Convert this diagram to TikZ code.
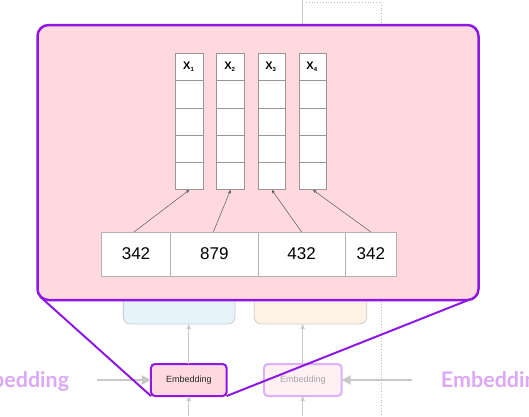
\documentclass[tikz,border=0pt]{standalone}
\usepackage{fontspec}
\setmainfont{Liberation Sans}
\newfontfamily\latofont{Lato}
\usetikzlibrary{arrows.meta}
\definecolor{bigpink}{RGB}{255,217,222}
\definecolor{purp}{RGB}{142,24,226}
\definecolor{lightpurp}{RGB}{222,176,245}
\definecolor{lav}{RGB}{220,168,245}
\definecolor{fadedpink}{RGB}{255,240,243}
\definecolor{lblue}{RGB}{230,243,250}
\definecolor{lorange}{RGB}{255,243,230}
\definecolor{cellgray}{RGB}{150,150,150}
\definecolor{arrgray}{RGB}{200,200,200}
\tikzset{
  bigbox/.style={draw=purp, fill=bigpink, line width=2.5pt, rounded corners=11pt, inner sep=0pt, outer sep=0pt},
  bgbox/.style={draw=black!20, line width=0.8pt, rounded corners=7pt, inner sep=0pt, outer sep=0pt},
  vcell/.style={draw=cellgray, fill=white, line width=0.8pt, minimum width=27.5pt, minimum height=27.3pt, inner sep=0pt, outer sep=0pt},
  ncell/.style={draw=black!30, fill=white, line width=0.8pt, minimum height=44pt, inner sep=0pt, outer sep=0pt, font=\fontsize{17}{17}\selectfont},
  xlab/.style={font=\fontsize{11}{11}\selectfont\bfseries},
  thinarr/.style={draw=black!65, line width=0.5pt, -{Stealth[length=4pt,width=3pt]}},
  vgarr/.style={draw=arrgray, line width=1pt, -{Triangle[length=5pt,width=4pt]}},
  hgarr/.style={draw=arrgray, line width=2pt, -{Triangle[length=9pt,width=9pt]}},
  embbox/.style={draw=purp, fill=bigpink, line width=2pt, rounded corners=4pt, minimum width=75.7pt, minimum height=32pt, inner sep=0pt, outer sep=0pt, font=\fontsize{9}{9}\selectfont, text=black!85},
  fadedbox/.style={draw=lightpurp, fill=fadedpink, line width=2pt, rounded corners=4pt, minimum width=77.7pt, minimum height=32pt, inner sep=0pt, outer sep=0pt, font=\fontsize{9}{9}\selectfont, text=black!35},
  lavtext/.style={inner sep=0pt, text=lav, font=\latofont\bfseries\fontsize{21.5}{21.5}\selectfont},
  purpline/.style={draw=purp, line width=2pt}
}
\begin{document}
\begin{tikzpicture}[x=1pt,y=-1pt]
\useasboundingbox (0,0) rectangle (529,416);
\clip (0,0) rectangle (529,416);
% background guides
\draw[draw=black!20, line width=0.8pt] (302.3,0) -- (302.3,30);
\draw[draw=black!25, dotted, line width=0.8pt] (306,2) -- (381.7,2) -- (381.7,416);
% background boxes
\node[bgbox, fill=lblue, minimum width=111.7pt, minimum height=50pt] (blue) at (179.2,299) {};
\node[bgbox, fill=lorange, minimum width=112.4pt, minimum height=50pt] (orange) at (310.5,299) {};
% embedding boxes
\node[embbox] (emb) at (188.8,380) {Embedding};
\node[fadedbox] (faded) at (302.8,380) {Embedding};
\coordinate (b1) at (188.8,416);
\coordinate (b2) at (302.8,416);
\draw[vgarr] (b1) -- (emb.south);
\draw[vgarr] (b2) -- (faded.south);
\draw[vgarr] (emb.north) -- (emb.north |- blue.south);
\draw[vgarr] (faded.north) -- (faded.north |- orange.south);
\coordinate (la) at (97,380);
\coordinate (ra) at (412,380);
\draw[hgarr] (la) -- (emb.west);
\draw[hgarr] (ra) -- (faded.east);
\node[lavtext, anchor=base east] (lt) at (69.3,387.7) {Embedding};
\node[lavtext, anchor=base west] (rt) at (440.7,387.7) {Embedding};
% big zoom box
\node[bigbox, minimum width=441pt, minimum height=275pt] (big) at (258,162.5) {};
% vector columns
\foreach \i/\cx in {1/189.5,2/230.6,3/271.7,4/312.8} {
  \node[vcell] (c\i-0) at (\cx,66.95) {};
  \node[xlab] at ([xshift=-1pt]c\i-0.center) {X\raisebox{-2.5pt}{\fontsize{6}{6}\selectfont\i}};
  \foreach \j in {1,...,4} {
    \node[vcell] (c\i-\j) at (\cx,{66.95+27.3*\j}) {};
  }
}
% number cells
\node[ncell, minimum width=68.6pt] (n1) at (136,254) {342};
\node[ncell, minimum width=88pt] (n2) at (214.3,254) {879};
\node[ncell, minimum width=86.7pt] (n3) at (301.65,254) {432};
\node[ncell, minimum width=51.7pt] (n4) at (370.85,254) {342};
\draw[thinarr] ([xshift=-2pt]n1.north) -- (c1-4.south);
\draw[thinarr] ([xshift=-1pt]n2.north) -- (c2-4.south);
\draw[thinarr] (n3.north) -- (c3-4.south);
\draw[thinarr] (n4.north) -- (c4-4.south);
% zoom lines
\draw[purpline] ([shift={(3,-3)}]big.south west) -- (emb.south west);
\draw[purpline] ([xshift=-10pt]big.south east) -- (emb.south east);
\end{tikzpicture}
\end{document}
